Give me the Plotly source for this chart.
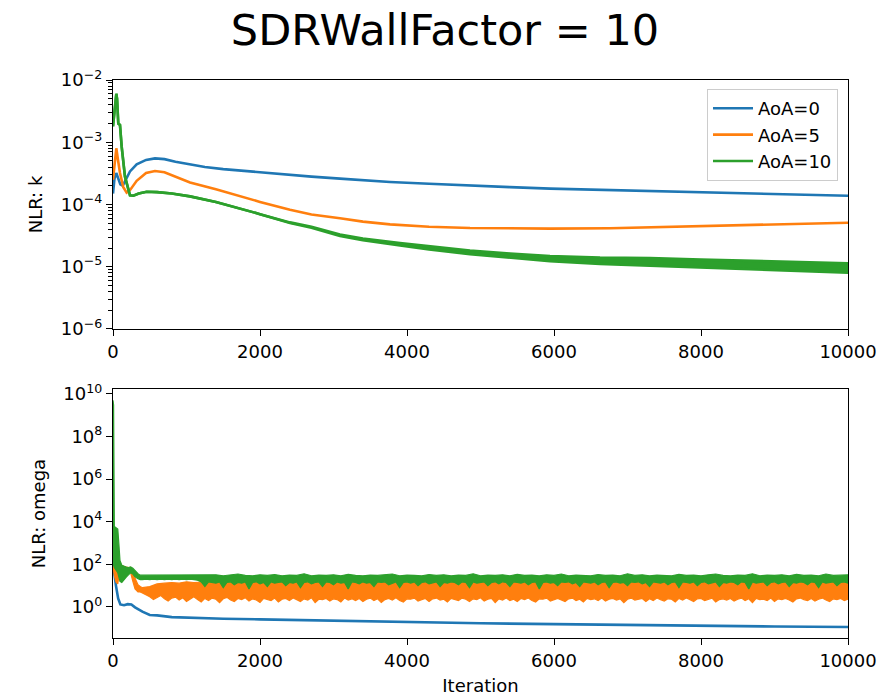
import plotly.graph_objects as go

BLUE, ORANGE, GREEN = "#1f77b4", "#ff7f0e", "#2ca02c"
series_names = ["AoA=0", "AoA=5", "AoA=10"]
title_text = "SDRWallFactor = 10"

# ---------------- top panel: NLR k ----------------
blue_k_x = [0, 20, 45, 70, 100, 132, 163, 231, 322, 450, 571, 700, 850, 1048, 1250, 1500,
            1728, 2000, 2408, 2700, 3088, 3400, 3769, 4300, 4857, 5400, 5946, 6600, 7306,
            8000, 9000, 10000]
blue_k = [1.5e-4, 2.6e-4, 3.2e-4, 2.6e-4, 2.1e-4, 2.0e-4, 2.4e-4, 3.4e-4, 4.4e-4, 5.2e-4,
          5.5e-4, 5.35e-4, 4.85e-4, 4.35e-4, 4.0e-4, 3.7e-4, 3.5e-4, 3.27e-4, 2.95e-4,
          2.8e-4, 2.6e-4, 2.45e-4, 2.3e-4, 2.15e-4, 2.0e-4, 1.9e-4, 1.8e-4, 1.72e-4, 1.65e-4,
          1.58e-4, 1.48e-4, 1.38e-4]

orange_k_x = [0, 25, 45, 70, 95, 140, 186, 231, 322, 450, 571, 700, 850, 1048, 1400, 1728,
              2000, 2408, 2700, 3088, 3400, 3769, 4300, 4857, 5400, 5946, 6762, 7306, 8000,
              9000, 10000]
orange_k = [2.5e-4, 5.5e-4, 8.0e-4, 5.0e-4, 3.2e-4, 1.9e-4, 1.55e-4, 1.7e-4, 2.4e-4, 3.2e-4,
            3.45e-4, 3.3e-4, 2.8e-4, 2.25e-4, 1.75e-4, 1.35e-4, 1.1e-4, 8.2e-5, 6.9e-5, 6.0e-5,
            5.3e-5, 4.8e-5, 4.4e-5, 4.2e-5, 4.1e-5, 4.1e-5, 4.15e-5, 4.3e-5, 4.55e-5, 4.85e-5,
            5.1e-5]

green_k_x = [0, 20, 45, 55, 72, 95, 118, 163, 231, 277, 350, 458, 600, 800, 1048, 1400,
             1728, 2000, 2408, 2700, 3088, 3400, 3905, 4300, 4857, 5400, 5946, 6626, 7306,
             8000, 9000, 10000]
green_k_upper = [1.8e-3, 3.0e-3, 6.0e-3, 5.0e-3, 2.0e-3, 1.9e-3, 8.5e-4, 2.8e-4, 1.4e-4,
                 1.38e-4, 1.5e-4, 1.6e-4, 1.58e-4, 1.5e-4, 1.35e-4, 1.1e-4, 8.7e-5, 7.0e-5,
                 5.16e-5, 4.38e-5, 3.29e-5, 2.85e-5, 2.41e-5, 2.12e-5, 1.82e-5, 1.63e-5,
                 1.48e-5, 1.4e-5, 1.38e-5, 1.3e-5, 1.22e-5, 1.14e-5]
green_k_lower = [1.8e-3, 3.0e-3, 6.0e-3, 5.0e-3, 2.0e-3, 1.9e-3, 8.5e-4, 2.8e-4, 1.4e-4,
                 1.38e-4, 1.5e-4, 1.6e-4, 1.58e-4, 1.5e-4, 1.35e-4, 1.1e-4, 8.7e-5, 7.0e-5,
                 5.04e-5, 4.22e-5, 3.11e-5, 2.66e-5, 2.2e-5, 1.89e-5, 1.59e-5, 1.38e-5,
                 1.23e-5, 1.11e-5, 1.04e-5, 9.6e-6, 8.8e-6, 8.0e-6]

# ---------------- bottom panel: NLR omega ----------------
blue_omega_x = [0, 15, 40, 70, 100, 150, 200, 250, 300, 400, 500, 600, 800, 1000, 1500,
                2000, 3000, 4000, 5000, 6000, 7000, 8000, 9000, 10000]
blue_omega = [60, 45, 10, 2.5, 1.3, 1.2, 1.35, 1.3, 0.95, 0.6, 0.42, 0.4, 0.33, 0.31, 0.28,
              0.26, 0.22, 0.19, 0.17, 0.155, 0.14, 0.13, 0.12, 0.113]

omega_x_early = [0, 8, 18, 40, 65, 80, 95, 120, 150, 180, 210, 240, 270, 300, 340, 370]
green_omega_upper_early = [5e9, 3e9, 6e3, 5e3, 4.5e3, 900, 150, 90, 80, 75, 70, 75, 65, 50, 36, 31]
green_omega_lower_early = [90, 90, 70, 50, 40, 25, 16, 14, 20, 25, 32, 40, 35, 26, 21, 19]
orange_omega_upper_early = [90, 95, 90, 85, 80, 95, 90, 85, 80, 75, 70, 72, 50, 22, 11, 9]
orange_omega_lower_early = [60, 50, 30, 15, 12, 40, 60, 55, 50, 50, 45, 40, 16, 7, 5, 5]

# late noisy envelopes (iteration 400 .. 10000)
omega_x_late_50 = list(range(400, 10001, 50))
omega_x_late_100 = list(range(400, 10001, 100))
orange_omega_upper_late_x = [400, 500, 600, 700, 800, 900, 1000, 1100, 1200, 1300, 1500, 2000,
                             3000, 4000, 5000, 6000, 7000, 8000, 9000, 10000]
orange_omega_upper_late = [8, 9, 12, 13, 14, 13, 15, 14, 15, 15, 15, 15, 15, 15, 15, 15, 15,
                           15, 15, 15]
orange_omega_lower_late = [
    4.5, 3.8, 3.0, 2.2, 2.8, 3.4, 2.4, 1.9, 2.6, 2.9,
    2.1, 2.7, 1.8, 2.4, 3.0, 2.2, 1.7, 2.5, 2.0, 2.6,
    2.3, 1.6, 2.4, 2.8, 2.1, 1.8, 2.5, 2.2, 2.7, 1.9,
    2.4, 2.1, 1.6, 2.5, 2.3, 2.0, 2.6, 1.7, 2.3, 2.5,
    2.0, 2.6, 2.2, 1.8, 2.4, 2.1, 2.7, 1.6, 2.3, 2.2,
    2.5, 1.9, 2.4, 2.2, 1.7, 2.6, 2.1, 2.4, 2.0, 2.5,
    1.8, 2.3, 2.6, 2.0, 2.4, 1.6, 2.2, 2.5, 2.1, 2.7,
    2.0, 1.7, 2.4, 2.3, 2.6, 1.9, 2.2, 2.5, 1.8, 2.4,
    2.6, 2.1, 2.3, 1.7, 2.5, 2.2, 2.0, 2.6, 2.3, 1.8,
    2.4, 2.2, 2.7, 1.9, 2.3, 2.5, 1.6, 2.4, 2.1, 2.6,
    2.0, 2.3, 1.8, 2.5, 2.2, 2.6, 2.0, 1.7, 2.4, 2.3,
    2.6, 1.9, 2.2, 2.5, 2.1, 1.8, 2.4, 2.6, 2.0, 2.3,
    1.7, 2.5, 2.2, 2.4, 2.0, 2.6, 1.9, 2.3, 2.5, 2.1,
    2.4, 1.6, 2.3, 2.6, 2.1, 2.2, 2.5, 1.8, 2.4, 2.0,
    2.6, 2.2, 1.9, 2.4, 2.3, 1.7, 2.5, 2.1, 2.6, 2.2,
    1.8, 2.4, 2.5, 2.0, 2.3, 2.6, 1.7, 2.2, 2.4, 2.1,
    2.5, 1.9, 2.3, 2.6, 2.0, 2.4, 1.6, 2.5, 2.2, 2.3,
    2.0, 2.6, 1.8, 2.4, 2.2, 2.5, 2.1, 1.7, 2.4, 2.6,
    2.2, 2.0, 2.5, 1.9, 2.3, 2.6, 2.1, 1.8, 2.4, 2.2,
    2.5, 2.0, 2.3]
green_omega_lower_late = [
    19, 20, 19, 20, 19, 20, 19, 20, 19, 20,
    19, 20, 19, 20, 19, 18, 15, 9, 15, 14,
    13, 15, 8, 14, 15, 11, 14, 13, 15, 7,
    14, 15, 12, 14, 9, 15, 13, 14, 15, 10,
    14, 13, 15, 8, 14, 15, 12, 14, 15, 9,
    15, 14, 11, 15, 13, 14, 7, 15, 14, 12,
    15, 13, 14, 9, 15, 14, 15, 11, 13, 15,
    8, 14, 15, 13, 15, 10, 14, 15, 12, 14,
    15, 9, 14, 13, 15, 14, 11, 15, 14, 8,
    15, 13, 14, 15, 10, 14, 15, 12, 15, 14,
    9, 15, 14, 13, 15, 11, 14, 15, 7, 14,
    15, 13, 14, 10, 15, 14, 15, 12, 14, 9,
    15, 14, 13, 15, 11, 14, 15, 8, 14, 15,
    13, 14, 10, 15, 14, 15, 12, 14, 9, 15,
    14, 13, 15, 11, 14, 15, 8, 15, 14, 13,
    15, 10, 14, 15, 12, 14, 15, 9, 14, 13,
    15, 14, 11, 15, 14, 7, 15, 13, 14, 15,
    10, 14, 15, 12, 14, 15, 9, 14, 13, 15,
    14, 11, 15, 14, 8, 15, 13, 14, 15, 10,
    14, 15, 13]
green_omega_upper_late = [
    31, 30, 31, 30, 31, 30, 31, 30, 31, 30,
    32, 29, 31, 35, 30, 29, 32, 30, 33, 29,
    31, 30, 36, 29, 31, 30, 32, 29, 34, 30,
    29, 31, 30, 32, 35, 29, 31, 30, 29, 33,
    30, 32, 29, 31, 30, 36, 29, 31, 30, 32,
    29, 34, 30, 31, 29, 32, 30, 35, 29, 31,
    30, 29, 33, 30, 31, 29, 36, 30, 32, 29,
    31, 30, 29, 34, 30, 31, 29, 32, 35, 30,
    29, 31, 30, 36, 29, 31, 30, 32, 29, 34,
    30, 31, 29, 35, 30, 31, 32]

k_ticks = [1e-6, 1e-5, 1e-4, 1e-3, 1e-2]
k_ticktext = ["10<sup>−6</sup>", "10<sup>−5</sup>", "10<sup>−4</sup>", "10<sup>−3</sup>", "10<sup>−2</sup>"]
k_minor = [m * 10.0 ** e for e in range(-6, -2) for m in range(2, 10)]
omega_ticks = [1e0, 1e2, 1e4, 1e6, 1e8, 1e10]
omega_ticktext = ["10<sup>0</sup>", "10<sup>2</sup>", "10<sup>4</sup>", "10<sup>6</sup>",
                  "10<sup>8</sup>", "10<sup>10</sup>"]
x_ticks = [0, 2000, 4000, 6000, 8000, 10000]
x_ticktext = ["0", "2000", "4000", "6000", "8000", "10000"]

FONT = "DejaVu Sans"
fig = go.Figure()


def line(x, y, color, xa, ya, width=2.6):
    fig.add_trace(go.Scatter(x=x, y=y, mode="lines", line=dict(color=color, width=width),
                             showlegend=False, hoverinfo="skip", xaxis=xa, yaxis=ya))


def band(x_lo, lo, x_hi, hi, color, xa, ya, width=1.2):
    line(x_lo, lo, color, xa, ya, width)
    fig.add_trace(go.Scatter(x=x_hi, y=hi, mode="lines", line=dict(color=color, width=width),
                             fill="tonexty", fillcolor=color, showlegend=False,
                             hoverinfo="skip", xaxis=xa, yaxis=ya))


# top
line(blue_k_x, blue_k, BLUE, "x", "y")
line(orange_k_x, orange_k, ORANGE, "x", "y")
band(green_k_x, green_k_lower, green_k_x, green_k_upper, GREEN, "x", "y", width=2.6)

# bottom
line(blue_omega_x, blue_omega, BLUE, "x2", "y2")
band(omega_x_early + omega_x_late_50, orange_omega_lower_early + orange_omega_lower_late,
     omega_x_early + orange_omega_upper_late_x, orange_omega_upper_early + orange_omega_upper_late,
     ORANGE, "x2", "y2")
band(omega_x_early + omega_x_late_50, green_omega_lower_early + green_omega_lower_late,
     omega_x_early + omega_x_late_100, green_omega_upper_early + green_omega_upper_late,
     GREEN, "x2", "y2")

# legend entries
for name, color in zip(series_names, [BLUE, ORANGE, GREEN]):
    fig.add_trace(go.Scatter(x=[None], y=[None], mode="lines", name=name, legendgroup=name,
                             line=dict(color=color, width=2.6), xaxis="x", yaxis="y"))

axis_common = dict(showline=True, mirror=True, linecolor="black", linewidth=1.2,
                   ticks="outside", ticklen=6, tickwidth=1.2, tickcolor="black",
                   showgrid=False, zeroline=False, automargin=False,
                   tickfont=dict(family=FONT, size=18, color="black"))

fig.update_layout(
    width=890, height=698,
    margin=dict(l=113, r=42, t=80, b=60),
    paper_bgcolor="white", plot_bgcolor="white",
    font=dict(family=FONT, size=18, color="black"),
    title=dict(text=title_text, x=0.5, xanchor="center", xref="container",
               y=1 - 30 / 698, yref="container", yanchor="middle",
               font=dict(family=FONT, size=43, color="black")),
    xaxis=dict(domain=[0, 1], range=[0, 10000], tickvals=x_ticks, ticktext=x_ticktext,
               anchor="y", **axis_common),
    yaxis=dict(domain=[0.5538, 1], type="log", range=[-6, -2], tickvals=k_ticks,
               ticktext=k_ticktext, anchor="x",
               minor=dict(ticks="outside", ticklen=3.5, tickwidth=1, tickcolor="black",
                          tickvals=k_minor),
               title=dict(text="NLR: k", standoff=13, font=dict(family=FONT, size=18)),
               **axis_common),
    xaxis2=dict(domain=[0, 1], range=[0, 10000], tickvals=x_ticks, ticktext=x_ticktext,
                anchor="y2",
                title=dict(text="Iteration", standoff=9, font=dict(family=FONT, size=18)),
                **axis_common),
    yaxis2=dict(domain=[0, 0.4462], type="log", range=[-1.46, 10.23], tickvals=omega_ticks,
                ticktext=omega_ticktext, anchor="x2",
                title=dict(text="NLR: omega", standoff=13, font=dict(family=FONT, size=18)),
                **axis_common),
    legend=dict(x=0.9864, xanchor="right", y=0.9839, yanchor="top", traceorder="normal",
                bgcolor="rgba(255,255,255,0.8)", bordercolor="#cccccc", borderwidth=1,
                font=dict(family=FONT, size=18), itemwidth=40, tracegroupgap=5),
    showlegend=True,
)

fig.write_html("out.html")
